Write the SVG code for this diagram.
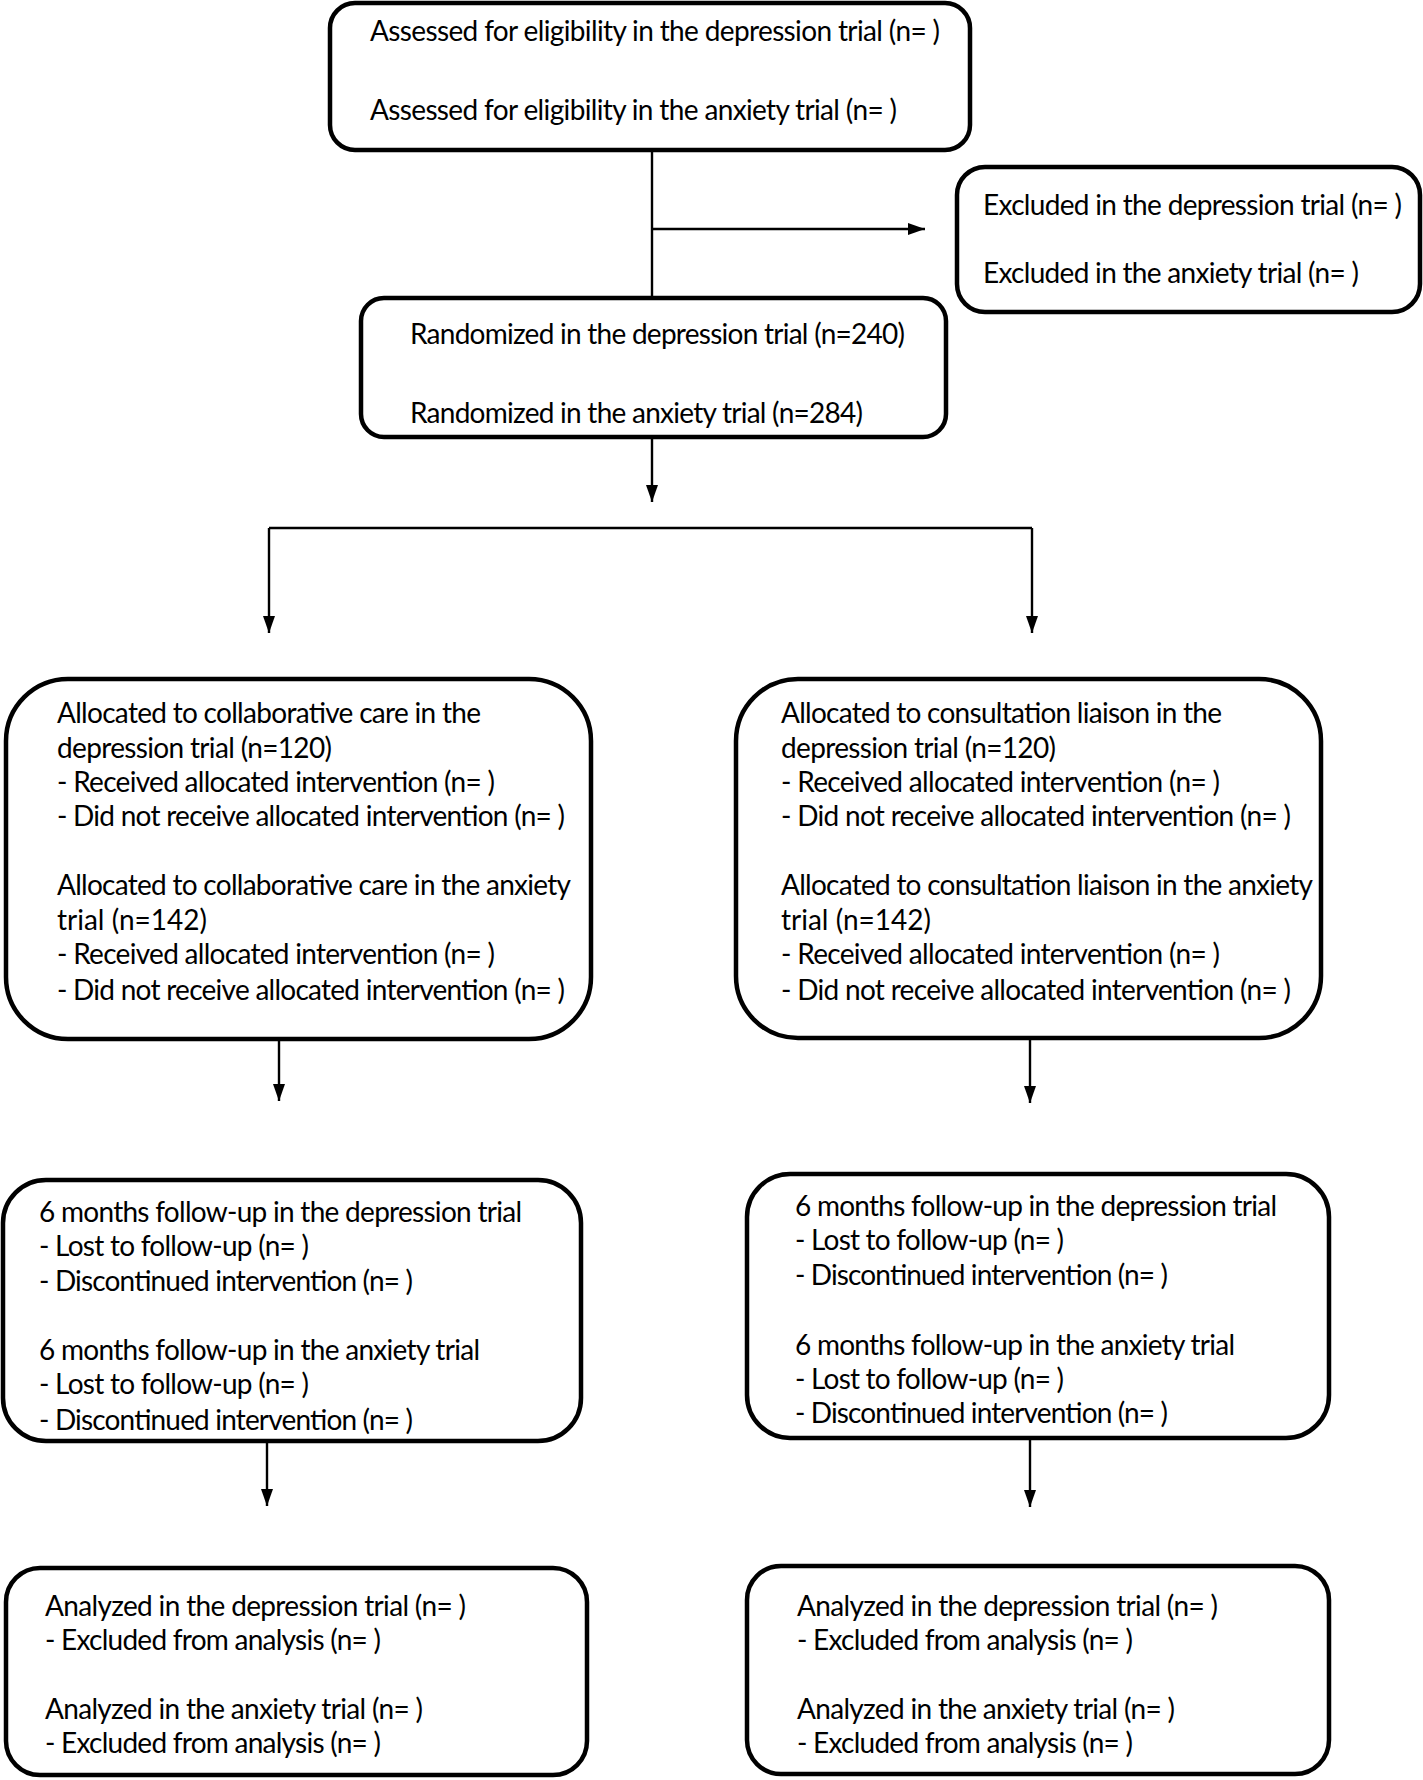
<svg xmlns="http://www.w3.org/2000/svg" width="1423" height="1780" viewBox="0 0 1423 1780">
<style>
.box{fill:#fff;stroke:#000;stroke-width:4.5}
.t{font-family:Lato,"Liberation Sans",sans-serif;font-size:28px;fill:#000}
.c{fill:none;stroke:#000;stroke-width:2.4}
</style>
<defs>
<marker id="ah" markerUnits="userSpaceOnUse" markerWidth="18" markerHeight="13" refX="17" refY="6" orient="auto">
<path d="M0,0 L17,6 L0,12 z" fill="#000"/>
</marker>
</defs>
<rect width="1423" height="1780" fill="#fff"/>
<g id="connectors">
<path class="c" d="M652,150 V297"/>
<path class="c" d="M652,229 H925" marker-end="url(#ah)"/>
<path class="c" d="M652,437 V502" marker-end="url(#ah)"/>
<path class="c" d="M269,528 H1032"/>
<path class="c" d="M269,528 V633" marker-end="url(#ah)"/>
<path class="c" d="M1032,528 V633" marker-end="url(#ah)"/>
<path class="c" d="M279,1040 V1101" marker-end="url(#ah)"/>
<path class="c" d="M1030,1039 V1103" marker-end="url(#ah)"/>
<path class="c" d="M267,1441 V1506" marker-end="url(#ah)"/>
<path class="c" d="M1030,1439 V1507" marker-end="url(#ah)"/>
</g>
<g id="assessed">
<rect class="box" x="330" y="3" width="640" height="147" rx="25"/>
<text class="t" x="370" y="41" textLength="570">Assessed for eligibility in the depression trial (n= )</text>
<text class="t" x="370" y="120" textLength="527">Assessed for eligibility in the anxiety trial (n= )</text>
</g>
<g id="excluded">
<rect class="box" x="957" y="167" width="463" height="145" rx="28"/>
<text class="t" x="983" y="215" textLength="419">Excluded in the depression trial (n= )</text>
<text class="t" x="983" y="283" textLength="376">Excluded in the anxiety trial (n= )</text>
</g>
<g id="randomized">
<rect class="box" x="361" y="298" width="585" height="139" rx="23"/>
<text class="t" x="410" y="344" textLength="495">Randomized in the depression trial (n=240)</text>
<text class="t" x="410" y="423" textLength="453">Randomized in the anxiety trial (n=284)</text>
</g>
<g id="alloc-cc">
<rect class="box" x="6" y="679" width="585" height="360" rx="62"/>
<text class="t" x="57" y="723" textLength="424">Allocated to collaborative care in the</text>
<text class="t" x="57" y="758" textLength="275">depression trial (n=120)</text>
<text class="t" x="57" y="792" textLength="438">- Received allocated intervention (n= )</text>
<text class="t" x="57" y="826" textLength="508">- Did not receive allocated intervention (n= )</text>
<text class="t" x="57" y="895" textLength="514">Allocated to collaborative care in the anxiety</text>
<text class="t" x="57" y="930">trial (n=142)</text>
<text class="t" x="57" y="964" textLength="438">- Received allocated intervention (n= )</text>
<text class="t" x="57" y="1000" textLength="508">- Did not receive allocated intervention (n= )</text>
</g>
<g id="alloc-cl">
<rect class="box" x="736" y="679" width="585" height="359" rx="62"/>
<text class="t" x="781" y="723" textLength="441">Allocated to consultation liaison in the</text>
<text class="t" x="781" y="758" textLength="275">depression trial (n=120)</text>
<text class="t" x="781" y="792" textLength="439">- Received allocated intervention (n= )</text>
<text class="t" x="781" y="826" textLength="510">- Did not receive allocated intervention (n= )</text>
<text class="t" x="781" y="895" textLength="532">Allocated to consultation liaison in the anxiety</text>
<text class="t" x="781" y="930">trial (n=142)</text>
<text class="t" x="781" y="964" textLength="439">- Received allocated intervention (n= )</text>
<text class="t" x="781" y="1000" textLength="510">- Did not receive allocated intervention (n= )</text>
</g>
<g id="followup-cc">
<rect class="box" x="3" y="1180" width="578" height="261" rx="43"/>
<text class="t" x="39" y="1222" textLength="483">6 months follow-up in the depression trial</text>
<text class="t" x="39" y="1256" textLength="270">- Lost to follow-up (n= )</text>
<text class="t" x="39" y="1291" textLength="374">- Discontinued intervention (n= )</text>
<text class="t" x="39" y="1360" textLength="441">6 months follow-up in the anxiety trial</text>
<text class="t" x="39" y="1394" textLength="270">- Lost to follow-up (n= )</text>
<text class="t" x="39" y="1430" textLength="374">- Discontinued intervention (n= )</text>
</g>
<g id="followup-cl">
<rect class="box" x="747" y="1174" width="582" height="264" rx="43"/>
<text class="t" x="795" y="1216" textLength="482">6 months follow-up in the depression trial</text>
<text class="t" x="795" y="1250" textLength="269">- Lost to follow-up (n= )</text>
<text class="t" x="795" y="1285" textLength="373">- Discontinued intervention (n= )</text>
<text class="t" x="795" y="1355" textLength="440">6 months follow-up in the anxiety trial</text>
<text class="t" x="795" y="1389" textLength="269">- Lost to follow-up (n= )</text>
<text class="t" x="795" y="1423" textLength="373">- Discontinued intervention (n= )</text>
</g>
<g id="analyzed-cc">
<rect class="box" x="6" y="1568" width="581" height="207" rx="34"/>
<text class="t" x="45" y="1616" textLength="421">Analyzed in the depression trial (n= )</text>
<text class="t" x="45" y="1650" textLength="336">- Excluded from analysis (n= )</text>
<text class="t" x="45" y="1719" textLength="378">Analyzed in the anxiety trial (n= )</text>
<text class="t" x="45" y="1753" textLength="336">- Excluded from analysis (n= )</text>
</g>
<g id="analyzed-cl">
<rect class="box" x="747" y="1566" width="582" height="208" rx="34"/>
<text class="t" x="797" y="1616" textLength="421">Analyzed in the depression trial (n= )</text>
<text class="t" x="797" y="1650" textLength="336">- Excluded from analysis (n= )</text>
<text class="t" x="797" y="1719" textLength="378">Analyzed in the anxiety trial (n= )</text>
<text class="t" x="797" y="1753" textLength="336">- Excluded from analysis (n= )</text>
</g>
</svg>
